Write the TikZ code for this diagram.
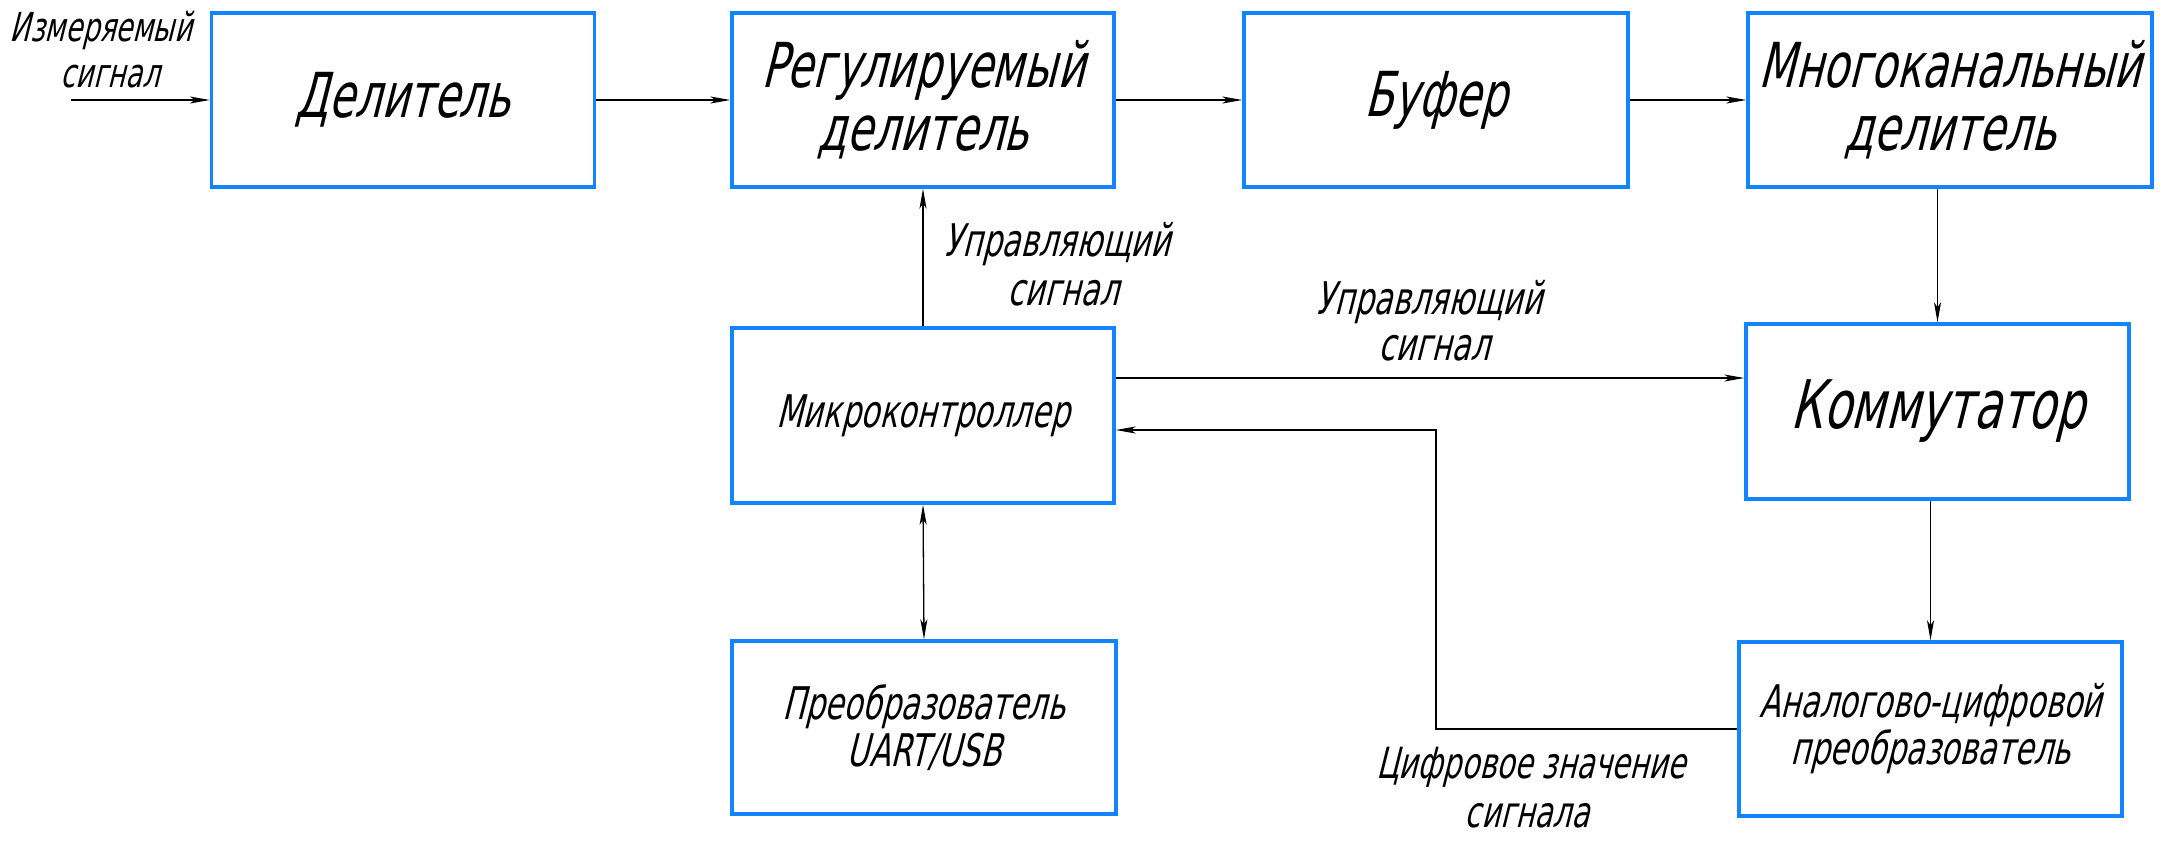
\documentclass[tikz,border=0pt]{standalone}
\usepackage{fontspec}
\newfontfamily\gost{DejaVu Sans}[FakeSlant=0.25,FakeStretch=0.68]
\usetikzlibrary{arrows.meta}
\definecolor{boxblue}{RGB}{18,132,255}
\tikzset{
  blk/.style={draw=boxblue, line width=3.4pt, inner sep=0pt, align=center,
              font=\gost\fontsize{62}{63}\selectfont},
  blkm/.style={blk, font=\gost\fontsize{45}{47}\selectfont},
  conn/.style={line width=1.3pt, draw=black},
  arr/.style={conn, -{Stealth[length=20pt,width=7pt,inset=5pt]}},
  barr/.style={conn, {Stealth[length=20pt,width=7pt,inset=5pt]}-{Stealth[length=20pt,width=7pt,inset=5pt]}},
  lbl/.style={inner sep=0pt, anchor=base, font=\gost\fontsize{45}{47}\selectfont},
  lbls/.style={lbl, font=\gost\fontsize{43}{45}\selectfont},
  lblxs/.style={lbl, font=\gost\fontsize{40}{42}\selectfont},
}
\begin{document}
\begin{tikzpicture}[x=1pt,y=-1pt]
\useasboundingbox (0,0) rectangle (2179,841);
% blocks
\node[blk, minimum width=383, minimum height=174] (del) at (403,100) {Делитель};
\node[blk, minimum width=382, minimum height=174] (reg) at (923,100) {Регулируемый\\делитель};
\node[blk, minimum width=384, minimum height=174] (buf) at (1436,100) {Буфер};
\node[blk, minimum width=404, minimum height=174] (mul) at (1950,100) {Многоканальный\\делитель};
\node[blkm, minimum width=382, minimum height=175] (mcu) at (923,415.5) {Микроконтроллер};
\node[blk, minimum width=383, minimum height=175, font=\gost\fontsize{67}{68}\selectfont] (kom) at (1937.5,411.5) {Коммутатор};
\node[blkm, minimum width=384, minimum height=173] (uart) at (924,727.5) {Преобразователь\\UART/USB};
\node[blkm, minimum width=383, minimum height=174] (adc) at (1930.5,729) {Аналогово-цифровой\\преобразователь};
% labels
\node[lblxs] (in1) at (101,41) {Измеряемый};
\node[lblxs] (in2) at (110,87) {сигнал};
\node[lbl] (c1a) at (1057,256) {Управляющий};
\node[lbl] (c1b) at (1063,305) {сигнал};
\node[lbl] (c2a) at (1429,314) {Управляющий};
\node[lbl] (c2b) at (1434,360) {сигнал};
\node[lbls] (d1) at (1531,778) {Цифровое значение};
\node[lbls] (d2) at (1527,827) {сигнала};
% connectors
\coordinate (src) at (71,100);
\draw[arr] (src) -- (del.west);
\draw[arr] (del.east) -- (reg.west);
\draw[arr] (reg.east) -- (buf.west);
\draw[arr] (buf.east) -- (mul.west);
\draw[arr] (kom.north |- mul.south) -- (kom.north);
\draw[arr] (mcu.north) -- (reg.south);
\draw[barr] (mcu.south) -- (uart.north);
\coordinate (ctl) at (0,378);
\draw[arr] (mcu.east |- ctl) -- (kom.west |- ctl);
\draw[arr] (adc.north |- kom.south) -- (adc.north);
\coordinate (fb) at (1436,430);
\draw[arr] (adc.west) -| (fb) -- (mcu.east |- fb);
\end{tikzpicture}
\end{document}
